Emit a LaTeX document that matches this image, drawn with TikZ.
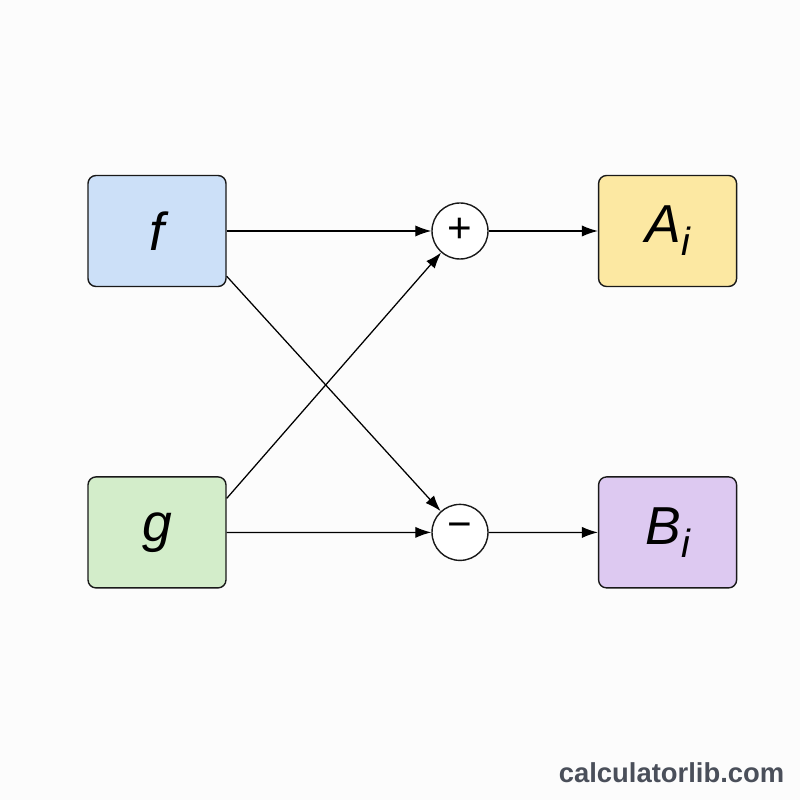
\documentclass[tikz,border=0pt]{standalone}
\usepackage{fontspec}
\setmainfont{Liberation Sans}
\usetikzlibrary{arrows.meta, positioning, calc}
\definecolor{fblue}{HTML}{CCE0F8}
\definecolor{ggreen}{HTML}{D3EDCA}
\definecolor{ayellow}{HTML}{FCE8A2}
\definecolor{bpurple}{HTML}{DDC9F1}
\definecolor{markgray}{HTML}{4A4F5A}
\begin{document}
\begin{tikzpicture}[
    valbox/.style={draw=black!90, line width=1pt, rectangle, rounded corners=0.2cm, minimum width=3.45cm, minimum height=2.775cm, inner sep=0pt, font=\fontsize{38}{40}\selectfont\itshape},
    opnode/.style={draw=black!90, line width=1pt, circle, minimum size=1.4cm, inner sep=0pt, fill=white, font=\fontsize{30}{32}\selectfont},
    arrow/.style={-{Latex[length=0.4cm, width=0.28cm]}, line width=0.9pt, draw=black}
  ]
    \fill[white!99!black] (0,0) rectangle (20,20);
    \useasboundingbox (0,0) rectangle (20,20);

    % Nodes (Inputs)
    \node[valbox, fill=fblue] (f) at (3.925,14.225) {f};
    \node[valbox, fill=ggreen, below=4.725cm of f] (g) {g};

    % Nodes (Butterfly)
    \node[opnode] (plus) at (11.5,14.225) {\raisebox{0.04em}{+}};
    \node[opnode, below=6.1cm of plus] (minus) {\raisebox{0.06em}{\char"2212}};

    % Nodes (Outputs)
    \node[valbox, fill=ayellow] (A) at (16.69,14.225) {A\raisebox{-0.24em}{\fontsize{28}{30}\selectfont i}};
    \node[valbox, fill=bpurple, below=4.725cm of A] (B) {B\raisebox{-0.24em}{\fontsize{28}{30}\selectfont i}};

    % Connections
    \draw[arrow] (f) -- (plus);
    \draw[arrow] (g.26) -- (plus);
    \draw[arrow] (f.-33) -- (minus);
    \draw[arrow] (g) -- (minus);
    \draw[arrow] (plus) -- (A);
    \draw[arrow] (minus) -- (B);

    % Watermark
    \node[font=\fontsize{19.5}{21}\selectfont\bfseries, text=markgray] (mark) at (16.79,0.675) {calculatorlib.com};
  \end{tikzpicture}
\end{document}
